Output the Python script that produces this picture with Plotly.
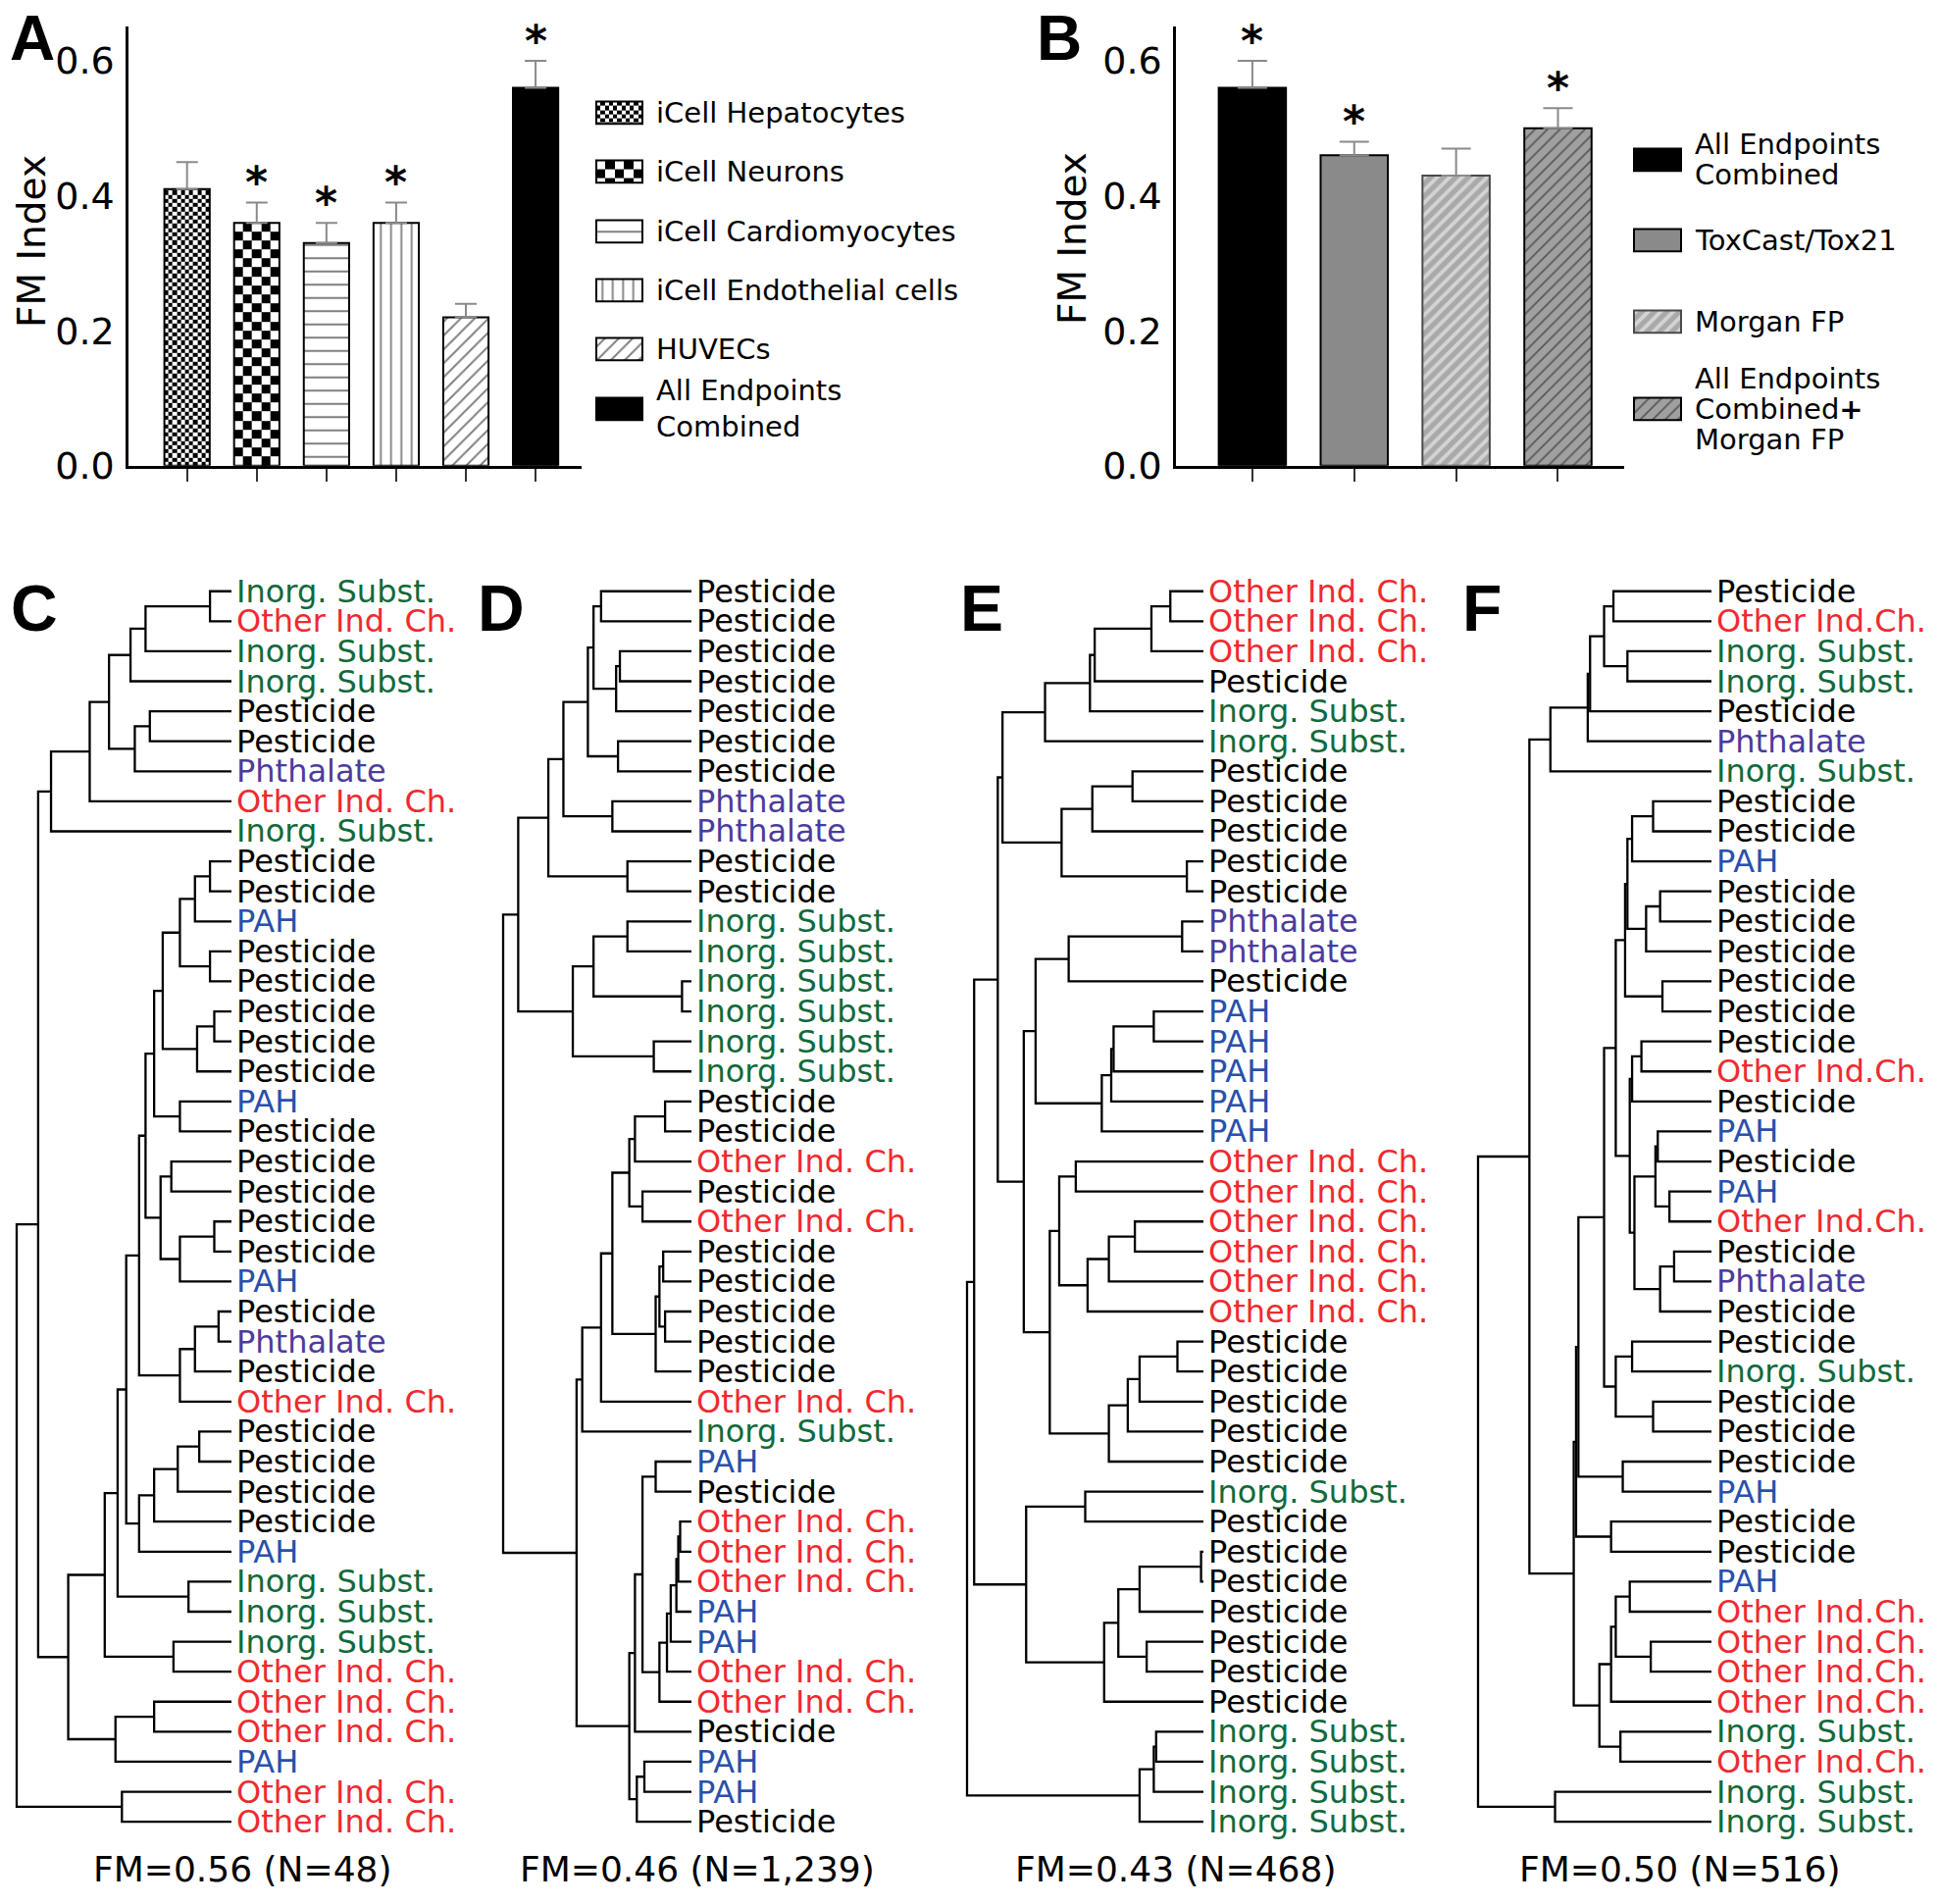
import numpy as np
import plotly.graph_objects as go

W, H = 1977, 1941
FONT = "DejaVu Sans"
LETTER_FONT = "Liberation Sans"

# ---------------- data: panel A ----------------
a_legend = [["iCell Hepatocytes"], ["iCell Neurons"], ["iCell Cardiomyocytes"],
            ["iCell Endothelial cells"], ["HUVECs"], ["All Endpoints", "Combined"]]
a_values = [0.41, 0.36, 0.33, 0.36, 0.22, 0.56]
a_errors = [0.04, 0.03, 0.03, 0.03, 0.02, 0.04]
a_star = [False, True, True, True, False, True]

# ---------------- data: panel B ----------------
b_legend = [["All Endpoints", "Combined"], ["ToxCast/Tox21"], ["Morgan FP"],
            ["All Endpoints", "Combined<b>+</b>", "Morgan FP"]]
b_values = [0.56, 0.46, 0.43, 0.50]
b_errors = [0.04, 0.02, 0.04, 0.03]
b_star = [True, True, False, True]

y_tick_values = [0.0, 0.2, 0.4, 0.6]
y_title = "FM Index"

# ---------------- data: dendrograms (node = [distance, left, right]) -------------
# leaf codes: P pesticide, O other industrial chemical, I inorganic, A PAH, H phthalate
c_top = [0.84, [0.66, [0.57, [0.47, [0.40, [0.10, "I", "O"], "I"], "I"],
                       [0.45, [0.38, "P", "P"], "H"]], "O"], "I"]
c_mid1 = [0.40, [0.36, [0.32, [0.24, [0.17, [0.10, "P", "P"], "A"], [0.10, "P", "P"]],
                        [0.16, [0.08, "P", "P"], "P"]], [0.24, "A", "P"]],
          [0.33, [0.28, "P", "P"], [0.24, [0.08, "P", "P"], "A"]]]
c_mid2 = [0.49, [0.43, c_mid1, [0.24, [0.17, [0.06, "P", "H"], "P"], "O"]],
          [0.43, [0.36, [0.25, [0.15, "P", "P"], "P"], "P"], "A"]]
c_low = [0.76, [0.59, [0.53, c_mid2, [0.20, "I", "I"]], [0.27, "I", "O"]],
         [0.54, [0.36, "O", "O"], "A"]]
tree_c = [1.0, [0.90, c_top, c_low], [0.51, "O", "O"]]

d_top = [0.92, [0.76, [0.68, [0.55, [0.52, [0.48, "P", "P"], [0.40, [0.38, "P", "P"], "P"]],
                              [0.39, "P", "P"]], [0.42, "H", "H"]], [0.34, "P", "P"]],
         [0.63, [0.52, [0.34, "I", "I"], [0.05, "I", "I"]], [0.20, "I", "I"]]]
d_mid = [0.58, [0.48, [0.42, [0.33, [0.30, [0.14, "P", "P"], "O"], [0.26, "P", "O"]],
                       [0.19, [0.17, [0.15, "P", "P"], [0.14, "P", "P"]], "P"]], "O"], "I"]
d_low = [0.33, [0.30, [0.26, [0.19, "A", "P"],
                       [0.17, [0.13, [0.11, [0.08, [0.07, [0.06, "O", "O"], "O"], "A"], "A"], "O"], "O"]], "P"],
         [0.29, [0.25, "A", "A"], "P"]]
tree_d = [1.0, d_top, [0.61, d_mid, d_low]]

e_top = [0.85, [0.67, [0.48, [0.46, [0.22, [0.14, "O", "O"], "O"], "P"], "I"], "I"],
         [0.60, [0.47, [0.30, "P", "P"], "P"], [0.07, "P", "P"]]]
e_mid = [0.76, [0.71, [0.57, [0.09, "H", "H"], "P"],
                [0.43, [0.39, [0.38, [0.21, "A", "A"], "A"], "A"], "A"]],
         [0.65, [0.61, [0.54, "O", "O"], [0.49, [0.40, [0.29, "O", "O"], "O"], "O"]],
          [0.40, [0.32, [0.27, [0.11, "P", "P"], "P"], "P"], "P"]]]
e_low = [0.75, [0.50, "I", "P"],
         [0.42, [0.36, [0.27, [0.01, "P", "P"], "P"], [0.24, "P", "P"]], "P"]]
tree_e = [1.0, [0.97, [0.87, e_top, e_mid], e_low], [0.27, [0.21, [0.20, "I", "I"], "I"], "I"]]

f_top = [0.69, [0.53, [0.52, [0.46, [0.42, "P", "O"], [0.36, "I", "I"]], "P"], "H"], "I"]
f_mid = [0.46, [0.41, [0.37, [0.36, [0.34, [0.25, "P", "P"], "A"], [0.28, [0.22, "P", "P"], "P"]],
                       [0.21, "P", "P"]],
                [0.35, [0.34, [0.30, "P", "O"], "P"],
                 [0.33, [0.24, [0.23, "A", "P"], [0.18, "A", "O"]], [0.22, [0.16, "P", "H"], "P"]]]],
         [0.41, [0.34, "P", "I"], [0.25, "P", "P"]]]
f_low = [0.59, [0.58, [0.57, f_mid, [0.38, "P", "A"]], [0.43, "P", "P"]],
         [0.48, [0.43, [0.41, [0.35, "A", "O"], [0.26, "O", "O"]], "O"], [0.39, "I", "O"]]]
tree_f = [1.0, [0.78, f_top, f_low], [0.67, "I", "I"]]

category_names = {"P": "Pesticide", "O": "Other Ind. Ch.", "I": "Inorg. Subst.",
                  "A": "PAH", "H": "Phthalate"}
category_names_f = dict(category_names, O="Other Ind.Ch.")
captions = ["FM=0.56 (N=48)", "FM=0.46 (N=1,239)", "FM=0.43 (N=468)", "FM=0.50 (N=516)"]

# ---------------- styles / layout ----------------
CAT_COLORS = {"P": "#000000", "O": "#ef2a2f", "I": "#12693a", "A": "#2a4fab", "H": "#4c3b9d"}
A_STYLES = [
    dict(kind="checker", cell=4.3),
    dict(kind="checker", cell=9.3),
    dict(kind="pattern", shape="-", size=13.5, solidity=0.15, fg="black", bg="white"),
    dict(kind="pattern", shape="|", size=10.5, solidity=0.18, fg="black", bg="white"),
    dict(kind="pattern", shape="/", size=10, solidity=0.2, fg="black", bg="white"),
    dict(kind="solid", color="black"),
]
B_STYLES = [
    dict(kind="solid", color="black"),
    dict(kind="solid", color="#8a8a8a"),
    dict(kind="pattern", shape="/", size=9, solidity=0.42, fg="white", bg="#a9a9a9", line="#4a4a4a"),
    dict(kind="pattern", shape="/", size=9, solidity=0.2, fg="#111111", bg="#a0a0a0"),
]
A_BOX = (131, 593, 27, 475)     # px: left, right, top, bottom
B_BOX = (1199, 1656, 27, 475)
A_XRANGE = [-0.84, 5.66]
B_XRANGE = [-0.75, 3.65]
Y_RANGE = [0, 0.651]
A_LEG = dict(x0=608, w=47, h=23, rows=[115, 175, 236, 296, 356, 417], tx=667, ls=37)
B_LEG = dict(x0=1666, w=48, h=23, rows=[163, 245, 328, 417], tx=1726, ls=31)
ROW_TOP, ROW_BOTTOM = 603, 1858
DENDROS = [
    dict(tree=tree_c, names=category_names, root=17, leaf=236, letter=(35, 620), cap=248),
    dict(tree=tree_d, names=category_names, root=513, leaf=705, letter=(511, 620), cap=711),
    dict(tree=tree_e, names=category_names, root=986, leaf=1227, letter=(1001, 620), cap=1198),
    dict(tree=tree_f, names=category_names_f, root=1507, leaf=1745, letter=(1511, 620), cap=1712),
]
SY = 1.011   # small vertical correction observed in the rendered page


def px_x(x):
    return x / W


def py(y):
    return y * SY


def px_y(y):
    return 1 - py(y) / H


fig = go.Figure()
annotations = []
layout = dict(width=W, height=H, margin=dict(l=0, r=0, t=0, b=0), autosize=False, barmode="overlay",
              paper_bgcolor="white", plot_bgcolor="rgba(0,0,0,0)", showlegend=False)


def checker(x0, x1, y0, y1, cx, cy, xa, ya):
    nx = max(1, int(round((x1 - x0) / cx)))
    xe = list(np.linspace(x0, x1, nx + 1))
    ye = list(np.arange(y0, y1 - cy * 0.3, cy)) + [y1]
    z = [[(i + j) % 2 for j in range(nx)] for i in range(len(ye) - 1)]
    return go.Heatmap(x=xe, y=ye, z=z, colorscale=[[0, "white"], [1, "black"]], zmin=0, zmax=1,
                      showscale=False, xaxis=xa, yaxis=ya, hoverinfo="skip", zsmooth=False)


def marker_for(s):
    line = dict(color=s.get("line", "black"), width=2)
    if s["kind"] == "checker":
        return dict(color="rgba(0,0,0,0)", line=line)
    if s["kind"] == "solid":
        return dict(color=s["color"], line=line)
    return dict(color=s["bg"], line=line,
                pattern=dict(shape=s["shape"], fgcolor=s["fg"], bgcolor=s["bg"], size=s["size"],
                             solidity=s["solidity"], fillmode="overlay"))


def bar_panel(values, errors, stars, styles, box, xrange_, xa, ya, width, errw, legend, leg):
    n = len(values)
    pxu = (py(box[3]) - py(box[2])) / (Y_RANGE[1] - Y_RANGE[0])
    px_per_cat = (box[1] - box[0]) / (xrange_[1] - xrange_[0])
    for i, s in enumerate(styles):
        if s["kind"] == "checker":
            fig.add_trace(checker(i - width / 2, i + width / 2, 0, values[i],
                                  s["cell"] / px_per_cat, s["cell"] / pxu, xa, ya))
    for i, s in enumerate(styles):
        fig.add_trace(go.Bar(x=[i], y=[values[i]], width=width, xaxis=xa, yaxis=ya,
                             marker=marker_for(s), showlegend=False, hoverinfo="skip",
                             error_y=dict(type="data", array=[errors[i]], arrayminus=[0], symmetric=False,
                                          color="#8a8a8a", thickness=2, width=errw)))
        if stars[i]:
            annotations.append(dict(x=i, y=values[i] + errors[i], xref=xa, yref=ya, text="<b>*</b>",
                                    showarrow=False, yanchor="middle", yshift=21,
                                    font=dict(family=FONT, size=44, color="black")))
    ax_x = dict(domain=[px_x(box[0]), px_x(box[1])], range=xrange_, showline=True, linecolor="black",
                linewidth=2.5, ticks="outside", ticklen=13, tickwidth=2, tickcolor="#333",
                tickvals=list(range(n)), showticklabels=False, showgrid=False, zeroline=False,
                anchor=ya, fixedrange=True)
    ax_y = dict(domain=[px_y(box[3]), px_y(box[2])], range=Y_RANGE, showline=True, linecolor="black",
                linewidth=2.5, tickvals=y_tick_values, ticktext=[f"{v:.1f}" for v in y_tick_values],
                tickfont=dict(family=FONT, size=38, color="black"), ticks="", ticklabelstandoff=4,
                showgrid=False, zeroline=False, anchor=xa, fixedrange=True)
    # legend swatches on overlay pixel axes
    for r, s in enumerate(styles):
        yc = py(leg["rows"][r])
        if s["kind"] == "checker":
            fig.add_trace(checker(leg["x0"], leg["x0"] + leg["w"], yc - leg["h"] / 2, yc + leg["h"] / 2,
                                  s["cell"], s["cell"], "x7", "y7"))
        fig.add_trace(go.Bar(y=[yc], x=[leg["w"]], base=[leg["x0"]], width=leg["h"], orientation="h",
                             xaxis="x7", yaxis="y7", marker=marker_for(s), showlegend=False,
                             hoverinfo="skip"))
        for k, line in enumerate(legend[r]):
            yy = leg["rows"][r] + (k - (len(legend[r]) - 1) / 2) * leg["ls"]
            annotations.append(dict(x=px_x(leg["tx"]), y=px_y(yy), xref="paper", yref="paper",
                                    text=line, showarrow=False, xanchor="left", yanchor="middle",
                                    font=dict(family=FONT, size=29, color="black")))
    return ax_x, ax_y


ax, ay = bar_panel(a_values, a_errors, a_star, A_STYLES, A_BOX, A_XRANGE, "x", "y", 0.65, 11, a_legend, A_LEG)
layout["xaxis"], layout["yaxis"] = ax, ay
bx, by = bar_panel(b_values, b_errors, b_star, B_STYLES, B_BOX, B_XRANGE, "x2", "y2", 0.66, 15, b_legend, B_LEG)
layout["xaxis2"], layout["yaxis2"] = bx, by

# overlay pixel axes for legend swatches
layout["xaxis7"] = dict(domain=[0, 1], range=[0, W], visible=False, anchor="y7", fixedrange=True)
layout["yaxis7"] = dict(domain=[0, 1], range=[H, 0], visible=False, anchor="x7", fixedrange=True)

# y-axis titles and panel letters A, B
for xx, yy in [(33, 246), (1094, 243)]:
    annotations.append(dict(x=px_x(xx), y=px_y(yy), xref="paper", yref="paper", text=y_title,
                            textangle=-90, showarrow=False, xanchor="center", yanchor="middle",
                            font=dict(family=FONT, size=39, color="black")))
for letter, xx in zip(["A", "B"], [33, 1080]):
    annotations.append(dict(x=px_x(xx), y=px_y(2), xref="paper", yref="paper", text=f"<b>{letter}</b>",
                            showarrow=False, xanchor="center", yanchor="top", borderpad=0,
                            font=dict(family=LETTER_FONT, size=64, color="black")))


def build_dendro(tree):
    xs, ys, leaves = [], [], []

    def rec(node):
        if isinstance(node, str):
            leaves.append(node)
            return float(len(leaves) - 1), 0.0
        d, left, right = node
        yl, dl = rec(left)
        yr, dr = rec(right)
        xs.extend([dl, d, d, dr, None])
        ys.extend([yl, yl, yr, yr, None])
        return (yl + yr) / 2, d

    rec(tree)
    return xs, ys, leaves


for k, (panel, letter, cap) in enumerate(zip(DENDROS, ["C", "D", "E", "F"], captions)):
    ai = k + 3
    xa, ya = f"x{ai}", f"y{ai}"
    xs, ys, leaves = build_dendro(panel["tree"])
    n = len(leaves)
    span = panel["leaf"] - panel["root"]
    pad = 8
    step = (ROW_BOTTOM - ROW_TOP) / (n - 1)
    layout[f"xaxis{ai}"] = dict(domain=[px_x(panel["root"] - pad), px_x(panel["leaf"] + pad)],
                                range=[1 + pad / span, -pad / span], visible=False, anchor=ya, fixedrange=True)
    layout[f"yaxis{ai}"] = dict(domain=[px_y(ROW_BOTTOM + step / 2), px_y(ROW_TOP - step / 2)],
                                range=[n - 0.5, -0.5], visible=False, anchor=xa, fixedrange=True)
    fig.add_trace(go.Scatter(x=xs, y=ys, mode="lines", xaxis=xa, yaxis=ya,
                             line=dict(color="black", width=2.3), showlegend=False, hoverinfo="skip"))
    for i, code in enumerate(leaves):
        annotations.append(dict(x=0, y=i, xref=xa, yref=ya, text=panel["names"][code], showarrow=False,
                                xanchor="left", yanchor="middle", xshift=4, borderpad=0,
                                font=dict(family=FONT, size=32, color=CAT_COLORS[code])))
    annotations.append(dict(x=px_x(panel["cap"]), y=px_y(1906), xref="paper", yref="paper", text=cap,
                            showarrow=False, xanchor="center", yanchor="middle",
                            font=dict(family=FONT, size=36, color="black")))
    lx, ly = panel["letter"]
    annotations.append(dict(x=px_x(lx), y=px_y(ly), xref="paper", yref="paper", text=f"<b>{letter}</b>",
                            showarrow=False, xanchor="center", yanchor="middle",
                            font=dict(family=LETTER_FONT, size=66, color="black")))

layout["annotations"] = annotations
fig.update_layout(**layout)
post = ("document.documentElement.style.margin='0';document.body.style.margin='0';"
        "document.documentElement.style.overflow='hidden';document.body.style.overflow='hidden';"
        "var gd=document.getElementById('{plot_id}');gd.style.position='absolute';"
        "gd.style.left='0px';gd.style.top='0px';")
fig.write_html("out.html", config={"displayModeBar": False, "responsive": False}, post_script=post)
